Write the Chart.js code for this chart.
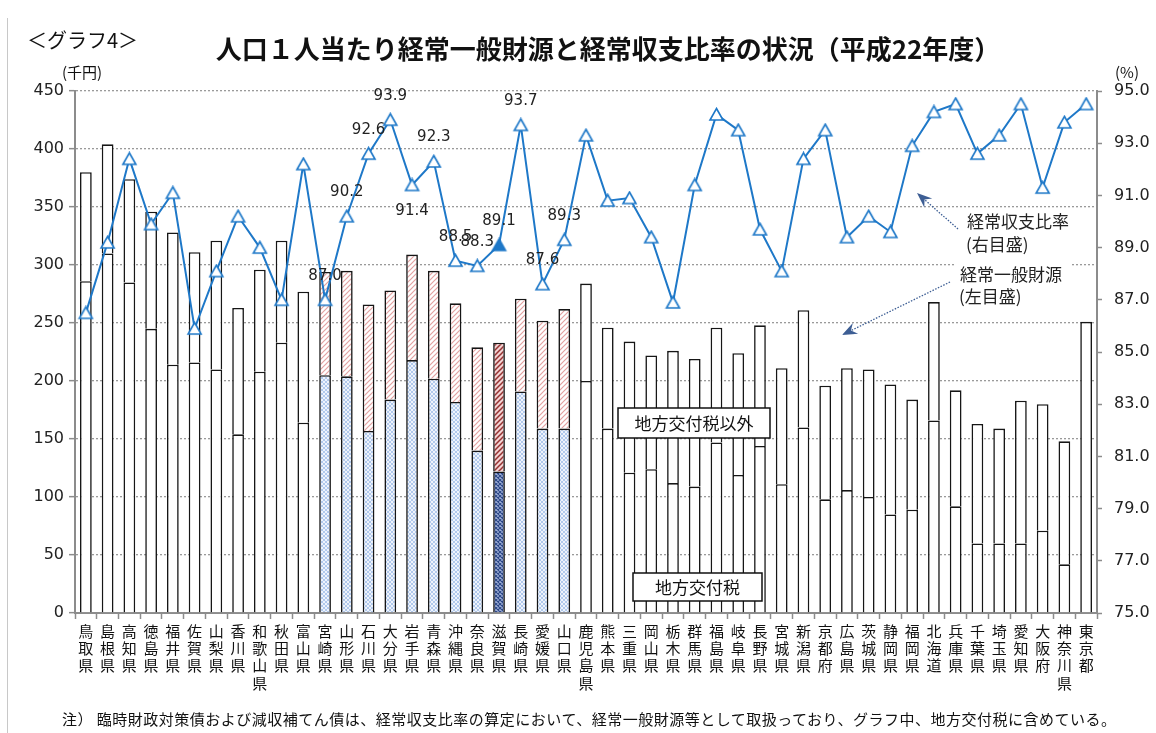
<!DOCTYPE html>
<html><head><meta charset="utf-8">
<script src="https://cdn.jsdelivr.net/npm/chart.js@4"></script>
<style>
html,body{margin:0;padding:0;background:#fff;}
#wrap{position:relative;width:1156px;height:733px;overflow:hidden;font-family:"Noto Sans CJK JP",sans-serif;color:#111;}
canvas{position:absolute;left:0;top:0;}
.t{position:absolute;white-space:nowrap;line-height:1;}
</style></head><body>
<div id="wrap">
<canvas id="c" width="1156" height="733"></canvas>
<div class="t" style="left:7px;top:18px;width:1px;height:715px;background:#c8c8c8;"></div>
<div class="t" style="left:27px;top:30px;font-size:20px;">＜グラフ4＞</div>
<div class="t" style="left:0;width:1216px;top:35px;text-align:center;font-size:26px;font-weight:bold;">人口１人当たり経常一般財源と経常収支比率の状況（平成22年度）</div>
<div class="t" style="left:62px;top:64px;font-size:15px;">(千円)</div>
<div class="t" style="left:1115px;top:64px;font-size:15px;">(%)</div>
<div class="t" style="left:62px;top:711px;font-size:15px;letter-spacing:0.5px;">注）&nbsp;臨時財政対策債および減収補てん債は、経常収支比率の算定において、経常一般財源等として取扱っており、グラフ中、地方交付税に含めている。</div>
</div>
<script>
// ---- data ----
const prefectures = ['鳥取県','島根県','高知県','徳島県','福井県','佐賀県','山梨県','香川県','和歌山県','秋田県','富山県','宮崎県','山形県','石川県','大分県','岩手県','青森県','沖縄県','奈良県','滋賀県','長崎県','愛媛県','山口県','鹿児島県','熊本県','三重県','岡山県','栃木県','群馬県','福島県','岐阜県','長野県','宮城県','新潟県','京都府','広島県','茨城県','静岡県','福岡県','北海道','兵庫県','千葉県','埼玉県','愛知県','大阪府','神奈川県','東京都'];
// 地方交付税 (千円)
const kofuzei = [286,310,285,245,214,216,210,154,208,233,164,205,204,157,184,218,202,182,140,122,191,159,159,200,159,121,124,112,109,147,119,144,111,160,98,106,100,85,89,166,92,60,60,60,71,42,0];
// 地方交付税以外 (千円)
const otherRevenue = [94,94,89,101,114,95,111,109,88,88,113,89,91,109,94,91,93,85,89,111,80,93,103,84,87,113,98,114,110,99,105,104,100,101,98,105,110,112,95,102,100,103,99,123,109,106,251];
// 経常収支比率 (%)
const ratio = [86.5,89.2,92.4,89.9,91.1,85.9,88.1,90.2,89.0,87.0,92.2,87.0,90.2,92.6,93.9,91.4,92.3,88.5,88.3,89.1,93.7,87.6,89.3,93.3,90.8,90.9,89.4,86.9,91.4,94.1,93.5,89.7,88.1,92.4,93.5,89.4,90.2,89.6,92.9,94.2,94.5,92.6,93.3,94.5,91.3,93.8,94.5];
const leftTicks = [0,50,100,150,200,250,300,350,400,450];
const rightTicks = [75,77,79,81,83,85,87,89,91,93,95];
const groupPrefs = ['宮崎県','山形県','石川県','大分県','岩手県','青森県','沖縄県','奈良県','滋賀県','長崎県','愛媛県','山口県'];
const focusPref = '滋賀県';
const labelBelow = ['岩手県'];

// ---- styles ----
const mainCtx = document.getElementById('c').getContext('2d');
function tile(w,h,fn){const c=document.createElement('canvas');c.width=w;c.height=h;const g=c.getContext('2d');fn(g);return c;}
function stripe(bg,fg,lw){return mainCtx.createPattern(tile(5,5,g=>{g.fillStyle=bg;g.fillRect(0,0,5,5);g.strokeStyle=fg;g.lineWidth=lw;g.beginPath();g.moveTo(-1,6);g.lineTo(6,-1);g.moveTo(-1,1);g.lineTo(1,-1);g.moveTo(4,6);g.lineTo(6,4);g.stroke();}),'repeat');}
function cross(bg,fg,lw){return mainCtx.createPattern(tile(4,4,g=>{g.fillStyle=bg;g.fillRect(0,0,4,4);g.strokeStyle=fg;g.lineWidth=lw;g.beginPath();g.moveTo(0,0);g.lineTo(4,4);g.moveTo(4,0);g.lineTo(0,4);g.stroke();}),'repeat');}
const redLight = stripe('#ffffff','#e3a2a2',1.2);
const redDark = stripe('#f2d2d2','#963232',1.5);
const blueLight = cross('#eef3fb','#a9c4ea',0.9);
const blueDark = cross('#9fb0d6','#2b4686',1.1);
const lineColor = '#1e78c8';
function tri(filled){return tile(17,15,g=>{g.beginPath();g.moveTo(8.5,1.5);g.lineTo(15,13);g.lineTo(2,13);g.closePath();g.fillStyle=filled?lineColor:'#ffffff';g.fill();g.strokeStyle=lineColor;g.lineWidth=1.6;g.stroke();});}
const triOpen = tri(false), triFull = tri(true);

const labels = prefectures.map(p=>Array.from(p));
function bottomFill(i){const p=prefectures[i];if(p===focusPref)return blueDark;return groupPrefs.includes(p)?blueLight:'#ffffff';}
function topFill(i){const p=prefectures[i];if(p===focusPref)return redDark;return groupPrefs.includes(p)?redLight:'#ffffff';}

const labelPlugin = {
  id:'valueLabels',
  afterDatasetsDraw(chart){
    const meta = chart.getDatasetMeta(2);
    const ctx = chart.ctx;
    ctx.save();
    ctx.font = '15px "DejaVu Sans"';
    ctx.fillStyle = '#222';
    ctx.textAlign = 'center';
    ctx.textBaseline = 'middle';
    prefectures.forEach((p,i)=>{
      if(!groupPrefs.includes(p)) return;
      const pt = meta.data[i];
      const dy = labelBelow.includes(p) ? 26 : -24;
      ctx.fillText(ratio[i].toFixed(1), pt.x, pt.y+dy);
    });
    ctx.restore();
  }
};

function arrow(ctx,x1,y1,x2,y2){
  ctx.save();
  ctx.strokeStyle='#3d5e94';ctx.lineWidth=1.3;ctx.setLineDash([1.5,1.5]);
  const a=Math.atan2(y2-y1,x2-x1);
  ctx.beginPath();ctx.moveTo(x1,y1);ctx.lineTo(x2-8*Math.cos(a),y2-8*Math.sin(a));ctx.stroke();
  ctx.setLineDash([]);
  ctx.translate(x2,y2);ctx.rotate(a);
  ctx.fillStyle='#3d5e94';
  ctx.beginPath();ctx.moveTo(0,0);ctx.lineTo(-15,-6);ctx.lineTo(-10,0);ctx.lineTo(-15,6);ctx.closePath();ctx.fill();
  ctx.restore();
}
const annotPlugin = {
  id:'annot',
  afterDraw(chart){
    const ctx = chart.ctx;
    ctx.save();
    const box=(x1,y1,x2,y2,text)=>{
      ctx.fillStyle='#fff';ctx.fillRect(x1,y1,x2-x1,y2-y1);
      ctx.strokeStyle='#111';ctx.lineWidth=1.5;ctx.strokeRect(x1,y1,x2-x1,y2-y1);
      ctx.fillStyle='#111';ctx.font='17px "Noto Sans CJK JP"';ctx.textAlign='center';ctx.textBaseline='middle';
      ctx.fillText(text,(x1+x2)/2,(y1+y2)/2+1);
    };
    box(618,408,770,438,'地方交付税以外');
    box(633,573,762,601,'地方交付税');
    ctx.fillStyle='#fff';
    ctx.fillRect(962,209,114,46);
    ctx.fillRect(956,261,116,46);
    ctx.fillStyle='#222';ctx.font='17px "Noto Sans CJK JP"';ctx.textAlign='left';ctx.textBaseline='middle';
    ctx.fillText('経常収支比率',967,222);
    ctx.fillText('(右目盛)',966,245);
    ctx.fillText('経常一般財源',960,275);
    ctx.fillText('(左目盛)',959,297);
    arrow(ctx,958,229,917,193);
    arrow(ctx,950,282,842,335);
    ctx.restore();
  }
};

const axisFont = {family:'"DejaVu Sans"',size:16};
new Chart(mainCtx,{
  data:{
    labels: labels,
    datasets:[
      {type:'bar',label:'地方交付税',data:kofuzei,yAxisID:'y',order:1,
       backgroundColor:(c)=>bottomFill(c.dataIndex),borderColor:'#161616',borderWidth:1.6,
       barPercentage:0.54,categoryPercentage:1},
      {type:'bar',label:'地方交付税以外',data:otherRevenue,yAxisID:'y',order:1,
       backgroundColor:(c)=>topFill(c.dataIndex),borderColor:'#161616',borderWidth:1.6,
       barPercentage:0.54,categoryPercentage:1},
      {type:'line',label:'経常収支比率',data:ratio,yAxisID:'y1',order:0,
       borderColor:lineColor,borderWidth:2,tension:0,fill:false,
       pointStyle:(c)=>prefectures[c.dataIndex]===focusPref?triFull:triOpen,pointRadius:7}
    ]
  },
  options:{
    responsive:false,maintainAspectRatio:false,animation:false,devicePixelRatio:1,
    layout:{padding:{left:0,right:0,top:91,bottom:30}},
    plugins:{legend:{display:false},tooltip:{enabled:false},title:{display:false}},
    scales:{
      x:{stacked:true,offset:true,
         grid:{display:true,drawOnChartArea:false,drawTicks:true,tickLength:6,tickColor:'#8c8c8c',tickWidth:1.5,offset:true},
         border:{display:true,color:'#8c8c8c',width:2},
         ticks:{autoSkip:false,maxRotation:0,minRotation:0,padding:4,color:'#111',font:{family:'"Noto Sans CJK JP"',size:15,lineHeight:1.14}},
         afterFit(s){s.height=90;}},
      y:{stacked:true,position:'left',min:leftTicks[0],max:leftTicks[leftTicks.length-1],
         afterBuildTicks(s){s.ticks=leftTicks.map(v=>({value:v}));},
         ticks:{padding:5,color:'#222',font:axisFont},
         grid:{color:'#9a9a9a',lineWidth:1.3,drawTicks:true,tickLength:6,tickColor:'#8c8c8c',tickWidth:1.5},
         border:{display:true,color:'#8c8c8c',width:2,dash:[2,2]},
         afterFit(s){s.width=75;}},
      y1:{position:'right',min:rightTicks[0],max:rightTicks[rightTicks.length-1],
         afterBuildTicks(s){s.ticks=rightTicks.map(v=>({value:v}));},
         ticks:{padding:12,color:'#222',font:axisFont,callback:(v)=>Number(v).toFixed(1)},
         grid:{drawOnChartArea:false,drawTicks:true,tickLength:5,tickColor:'#8c8c8c',tickWidth:1.5},
         border:{display:true,color:'#8c8c8c',width:2},
         afterFit(s){s.width=59;}}
    }
  },
  plugins:[labelPlugin,annotPlugin]
});
</script>
</body></html>
